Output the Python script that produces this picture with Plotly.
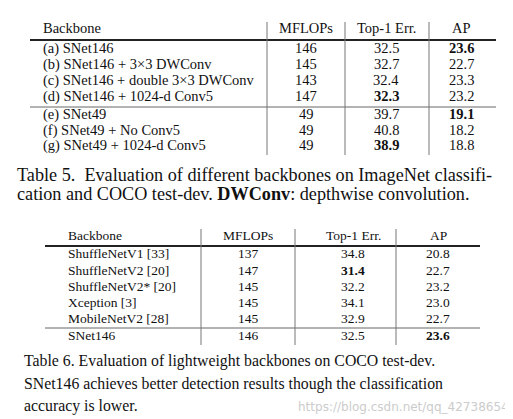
import plotly.graph_objects as go

W, H = 513, 419
FONT = "Liberation Serif, Times New Roman, serif"

backbones5 = ["(a) SNet146", "(b) SNet146 + 3×3 DWConv", "(c) SNet146 + double 3×3 DWConv",
              "(d) SNet146 + 1024-d Conv5", "(e) SNet49", "(f) SNet49 + No Conv5", "(g) SNet49 + 1024-d Conv5"]
mflops5 = [146, 145, 143, 147, 49, 49, 49]
top1_5 = [32.5, 32.7, 32.4, 32.3, 39.7, 40.8, 38.9]
ap5 = [23.6, 22.7, 23.3, 23.2, 19.1, 18.2, 18.8]
bold_top1_5 = [False, False, False, True, False, False, True]
bold_ap5 = [True, False, False, False, True, False, False]

backbones6 = ["ShuffleNetV1 [33]", "ShuffleNetV2 [20]", "ShuffleNetV2* [20]", "Xception [3]",
              "MobileNetV2 [28]", "SNet146"]
mflops6 = [137, 147, 145, 145, 145, 146]
top1_6 = [34.8, 31.4, 32.2, 34.1, 32.9, 32.5]
ap6 = [20.8, 22.7, 23.2, 23.0, 22.7, 23.6]
bold_top1_6 = [False, True, False, False, False, False]
bold_ap6 = [False, False, False, False, False, True]
headers = ["Backbone", "MFLOPs", "Top-1 Err.", "AP"]

fig = go.Figure()
ann, shapes = [], []

def txt(x, y, s, size=13, anchor="center", color="#111", font=FONT):
    ann.append(dict(x=x, y=y, text=s, showarrow=False, xanchor=anchor, yanchor="middle",
                    font=dict(family=font, size=size, color=color)))

def line(x0, y0, x1, y1, w=1, color="#555"):
    shapes.append(dict(type="line", x0=x0, y0=y0, x1=x1, y1=y1, line=dict(color=color, width=w)))

def fmt(v, b):
    s = f"{v:.1f}"
    return f"<b>{s}</b>" if b else s

def table(hy, thick_y, row_ys, sep_y, vx, vy0, vy1, lx0, lx1, xb, xc, names, mf, t1, ap, bt, ba, fs):
    txt(xb, hy, headers[0], fs, anchor="left")
    for i, h in enumerate(headers[1:]):
        txt(xc[i], hy, h, fs)
    line(lx0, thick_y, lx1, thick_y, 2, "#222")
    line(lx0, sep_y, lx1, sep_y, 1, "#666")
    for x in vx:
        line(x, vy0, x, vy1, 1, "#777")
    for i, y in enumerate(row_ys):
        txt(xb, y, names[i], fs, anchor="left")
        txt(xc[0], y, str(mf[i]), fs)
        txt(xc[1], y, fmt(t1[i], bt[i]), fs)
        txt(xc[2], y, fmt(ap[i], ba[i]), fs)

table(20, 32, [40, 56, 72, 88, 106, 122, 137], 99, [259, 337, 421], 14, 147, 22, 488,
      33, [298, 378, 453], backbones5, mflops5, top1_5, ap5, bold_top1_5, bold_ap5, 14.5)
table(227, 238, [245, 262, 278, 294, 310, 327], 320, [193, 287, 388], 221, 337, 37, 472,
      58, [240, 345, 430], backbones6, mflops6, top1_6, ap6, bold_top1_6, bold_ap6, 13.5)

txt(7, 167, "Table 5.  Evaluation of different backbones on ImageNet classifi-", 18.2, "left")
txt(7, 186, "cation and COCO test-dev. <b>DWConv</b>: depthwise convolution.", 18.2, "left")
txt(14, 353, "Table 6. Evaluation of lightweight backbones on COCO test-dev.", 15.8, "left")
txt(14, 376, "SNet146 achieves better detection results though the classification", 15.8, "left")
txt(14, 398, "accuracy is lower.", 15.8, "left")
txt(503, 399, "https://blog.csdn.net/qq_42738654", 12, "right", "#cccccc", "DejaVu Sans, sans-serif")

fig.update_layout(width=W, height=H, margin=dict(l=0, r=0, t=0, b=0),
                  paper_bgcolor="white", plot_bgcolor="white",
                  annotations=ann, shapes=shapes, showlegend=False,
                  xaxis=dict(range=[0, W], visible=False, fixedrange=True),
                  yaxis=dict(range=[H, 0], visible=False, fixedrange=True))
fig.write_html("out.html", config={"displayModeBar": False})
